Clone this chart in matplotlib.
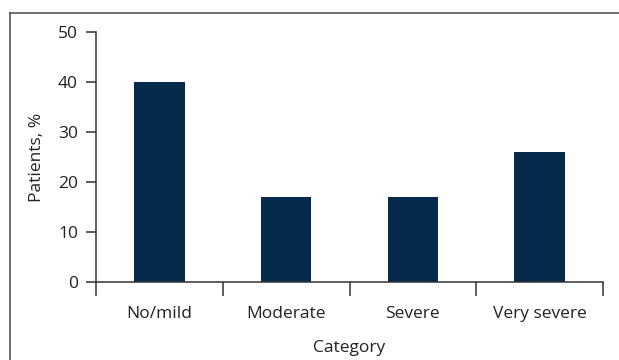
import matplotlib
matplotlib.use("Agg")
import matplotlib.pyplot as plt
from matplotlib.lines import Line2D

# Data
categories = ["No/mild", "Moderate", "Severe", "Very severe"]
patients_pct = [40, 17, 17, 26]
y_ticks = [0, 10, 20, 30, 40, 50]

plt.rcParams["font.family"] = ["Open Sans", "DejaVu Sans"]

W, H = 619, 360
fig = plt.figure(figsize=(W / 100, H / 100), dpi=100)

# axes box in pixel terms, converted to figure fractions
left, right, top, bottom = 96, 603, 32, 282
ax = fig.add_axes([left / W, 1 - bottom / H, (right - left) / W, (bottom - top) / H])

pos = list(range(len(categories)))
ax.bar(pos, patients_pct, width=0.4, color="#062a4c", zorder=2)

ax.set_xlim(-0.5, len(categories) - 0.5)
ax.set_ylim(0, 50)
ax.set_yticks(y_ticks)

fs = 12.5
# boundary ticks on x, labels at category centres
ax.set_xticks([p - 0.5 for p in pos] + [len(categories) - 0.5])
ax.set_xticklabels([])
ax.set_xticks(pos, minor=True)
ax.set_xticklabels(categories, minor=True)
ax.tick_params(axis="x", which="major", length=10, width=1.1, color="#333333", direction="out")
ax.tick_params(axis="x", which="minor", length=0, pad=17, labelsize=fs, labelcolor="#222222")
ax.tick_params(axis="y", length=7, width=1.1, color="#333333", direction="out",
               pad=6, labelsize=fs, labelcolor="#222222")

for s in ("top", "right"):
    ax.spines[s].set_visible(False)
for s in ("left", "bottom"):
    ax.spines[s].set_color("#333333")
    ax.spines[s].set_linewidth(1.1)

ax.set_ylabel("Patients, %", fontsize=fs, color="#222222", labelpad=9)
ax.set_xlabel("Category", fontsize=fs, color="#222222", labelpad=13)

# outer frame: top and left edges only
fig.add_artist(Line2D([9.5 / W, 1], [1 - 13 / H] * 2, transform=fig.transFigure,
                      color="#555555", lw=1.2))
fig.add_artist(Line2D([9.5 / W] * 2, [0, 1 - 13 / H], transform=fig.transFigure,
                      color="#555555", lw=1.2))

fig.savefig("out.png", dpi=100)
